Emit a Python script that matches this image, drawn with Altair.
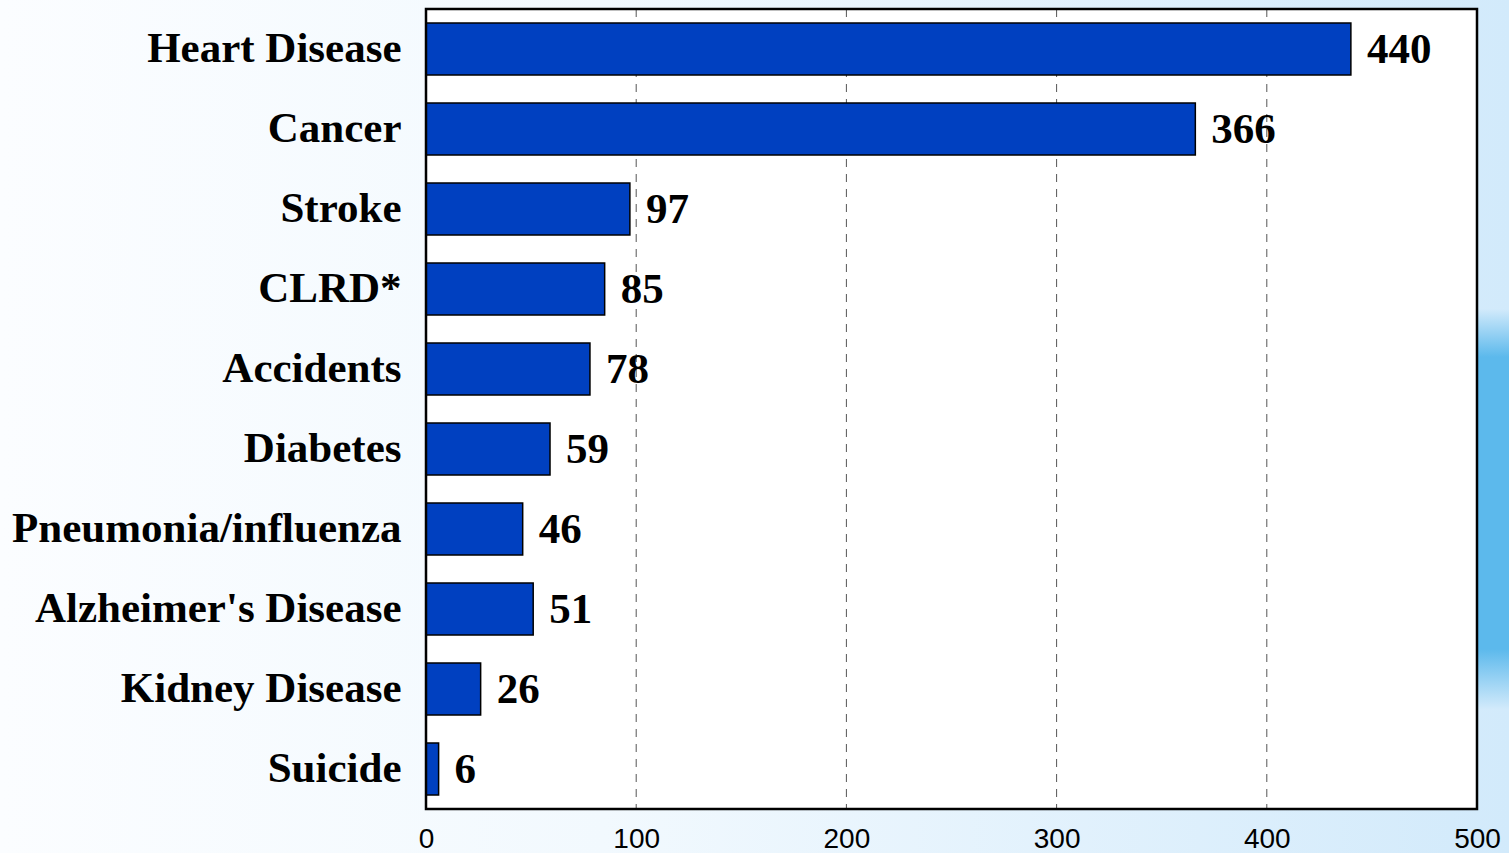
import altair as alt
import pandas as pd

causes = ["Heart Disease", "Cancer", "Stroke", "CLRD*", "Accidents", "Diabetes",
          "Pneumonia/influenza", "Alzheimer's Disease", "Kidney Disease", "Suicide"]
deaths = [440, 366, 97, 85, 78, 59, 46, 51, 26, 6]
x_ticks = [0, 100, 200, 300, 400, 500]
grid_at = [100, 200, 300, 400]

df = pd.DataFrame({"cause": causes, "deaths": deaths})
gdf = pd.DataFrame({"g": grid_at})

W, H = 1051, 800
PAD_L, PAD_T = 426, 9
one = pd.DataFrame({"a": [0]})

bg = alt.Chart(one).mark_rect(
    fill=alt.Gradient(gradient="linear", x1=0, y1=0.5, x2=1, y2=0.5,
                      stops=[alt.GradientStop(color="#fbfdff", offset=0),
                             alt.GradientStop(color="#f2f9fe", offset=0.4),
                             alt.GradientStop(color="#d2eafb", offset=1)])
).encode(x=alt.value(-PAD_L), x2=alt.value(1509 - PAD_L),
         y=alt.value(-PAD_T), y2=alt.value(853 - PAD_T))

swoosh = alt.Chart(one).mark_rect(
    fill=alt.Gradient(gradient="linear", x1=0.5, y1=0, x2=0.5, y2=1,
                      stops=[alt.GradientStop(color="#d2eafb", offset=0),
                             alt.GradientStop(color="#5cb9ec", offset=0.12),
                             alt.GradientStop(color="#5cb9ec", offset=0.85),
                             alt.GradientStop(color="#d2eafb", offset=1)])
).encode(x=alt.value(W), x2=alt.value(1509 - PAD_L),
         y=alt.value(300), y2=alt.value(700))

plotbg = alt.Chart(one).mark_rect(fill="white").encode(
    x=alt.value(0), x2=alt.value(W), y=alt.value(0), y2=alt.value(H))

ysc = alt.Scale(domain=causes, paddingInner=0.35, paddingOuter=0.175)
xsc = alt.Scale(domain=[0, 500], nice=False)

grid = alt.Chart(gdf).mark_rule(color="#555555", strokeWidth=1, strokeDash=[8, 7]).encode(
    x=alt.X("g:Q", scale=xsc))

bars = alt.Chart(df).mark_bar(color="#0040c0", stroke="black", strokeWidth=1.5).encode(
    x=alt.X("deaths:Q", scale=xsc,
            axis=alt.Axis(values=x_ticks, title=None, ticks=False, domain=False, grid=False,
                          labelFont="Liberation Sans", labelFontSize=28, labelColor="black",
                          labelPadding=16, labelFlush=False, zindex=1)),
    y=alt.Y("cause:N", scale=ysc, sort=causes,
            axis=alt.Axis(title=None, ticks=False, domain=False, labelFont="Liberation Serif",
                          labelFontSize=43, labelFontWeight="bold", labelColor="black",
                          labelPadding=25, labelLimit=500, zindex=1)),
)

labels = alt.Chart(df).mark_text(align="left", baseline="middle", dx=16, dy=1,
                                 font="Liberation Serif", fontSize=43, fontWeight="bold",
                                 color="black").encode(
    x=alt.X("deaths:Q", scale=xsc),
    y=alt.Y("cause:N", scale=ysc, sort=causes),
    text="deaths:Q",
)

border = alt.Chart(one).mark_rect(
    fill="white", fillOpacity=0, stroke="black", strokeWidth=2.5).encode(
    x=alt.value(0), x2=alt.value(W), y=alt.value(0), y2=alt.value(H))

chart = alt.layer(bg, swoosh, plotbg, grid, bars, labels, border).properties(
    width=W, height=H,
    autosize=alt.AutoSizeParams(type="none"),
    padding={"left": PAD_L, "top": PAD_T, "right": 1509 - PAD_L - W, "bottom": 853 - PAD_T - H},
).configure_view(strokeWidth=0, fill=None).configure(background="#f5fbff")

chart.save("out.html", embed_options={"renderer": "svg", "actions": False})
